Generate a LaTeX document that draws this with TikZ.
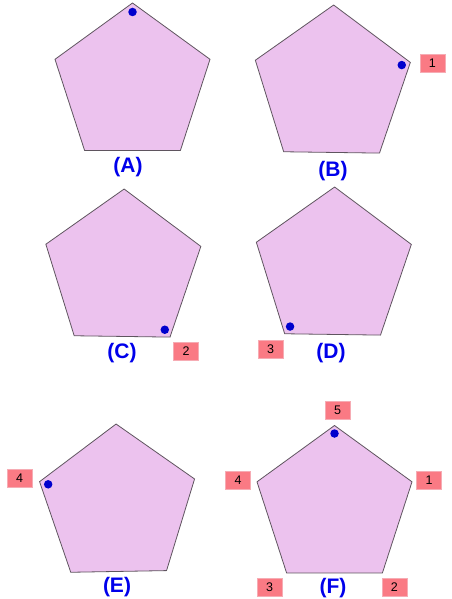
\documentclass[tikz,border=0pt]{standalone}
\usepackage{fontspec}
\setmainfont{Liberation Sans}
\usetikzlibrary{shapes.geometric,calc}

\definecolor{pentafill}{RGB}{236,194,238}
\definecolor{pentaedge}{RGB}{95,85,95}
\definecolor{boxfill}{RGB}{250,122,132}
\definecolor{boxedge}{RGB}{246,172,180}
\definecolor{capblue}{RGB}{0,0,235}
\definecolor{dotblue}{RGB}{0,0,205}

\begin{document}
\begin{tikzpicture}[
    x=1pt, y=-1pt,
    penta/.style={
        regular polygon,
        regular polygon sides=5,
        minimum size=163pt,
        inner sep=0pt,
        outer sep=0pt,
        draw=pentaedge,
        fill=pentafill,
        line width=0.8pt
    },
    dotmark/.style={
        circle,
        fill=dotblue,
        inner sep=0pt,
        minimum size=8.5pt
    },
    numbox/.style={
        rectangle,
        draw=boxedge,
        fill=boxfill,
        minimum width=25pt,
        minimum height=18pt,
        inner sep=0pt,
        font=\fontsize{12.5}{12.5}\selectfont
    },
    caption/.style={
        font=\fontsize{21}{21}\selectfont\bfseries,
        text=capblue
    }
]

\useasboundingbox (0,0) rectangle (451,599);

% Pentagon A
\node[penta] (pA) at (132.5,84.5) {};
\node[dotmark] (dA) at ($(pA.corner 1)!9pt!(pA.center)$) {};
\node[caption] (cA) at (128,167) {(A)};

% Pentagon B
\node[penta, shape border rotate=-0.8] (pB) at (332.5,86.5) {};
\node[dotmark] (dB) at ($(pB.corner 5)!9pt!(pB.center)$) {};
\node[numbox] (bB1) at ($(pB.corner 5)+(22,1)$) {1};
\node[caption] (cB) at (333,171) {(B)};

% Pentagon C
\node[penta, shape border rotate=-0.8] (pC) at (123,270.5) {};
\node[dotmark] (dC) at ($(pC.corner 4)!9pt!(pC.center)$) {};
\node[numbox] (bC2) at ($(pC.corner 4)+(16,14)$) {2};
\node[caption] (cC) at (122,353) {(C)};

% Pentagon D
\node[penta, shape border rotate=-0.8] (pD) at (333.5,268.5) {};
\node[dotmark] (dD) at ($(pD.corner 3)!9pt!(pD.center)$) {};
\node[numbox] (bD3) at ($(pD.corner 3)+(-14,15)$) {3};
\node[caption] (cD) at (331,353) {(D)};

% Pentagon E
\node[penta, shape border rotate=1] (pE) at (117.5,505.5) {};
\node[dotmark] (dE) at ($(pE.corner 2)!9pt!(pE.center)$) {};
\node[numbox] (bE4) at ($(pE.corner 2)+(-20,-3)$) {4};
\node[caption] (cE) at (117,587) {(E)};

% Pentagon F (all five positions)
\node[penta] (pF) at (334.5,507) {};
\node[dotmark] (dF) at ($(pF.corner 1)!8pt!(pF.center)$) {};
\node[numbox] (bF5) at ($(pF.corner 1)+(3,-15)$) {5};
\node[numbox] (bF4) at ($(pF.corner 2)+(-19,-2)$) {4};
\node[numbox] (bF1) at ($(pF.corner 5)+(17,-2)$) {1};
\node[numbox] (bF3) at ($(pF.corner 3)+(-17,14)$) {3};
\node[numbox] (bF2) at ($(pF.corner 4)+(12,14)$) {2};
\node[caption] (cF) at (333,588) {(F)};

\end{tikzpicture}
\end{document}
